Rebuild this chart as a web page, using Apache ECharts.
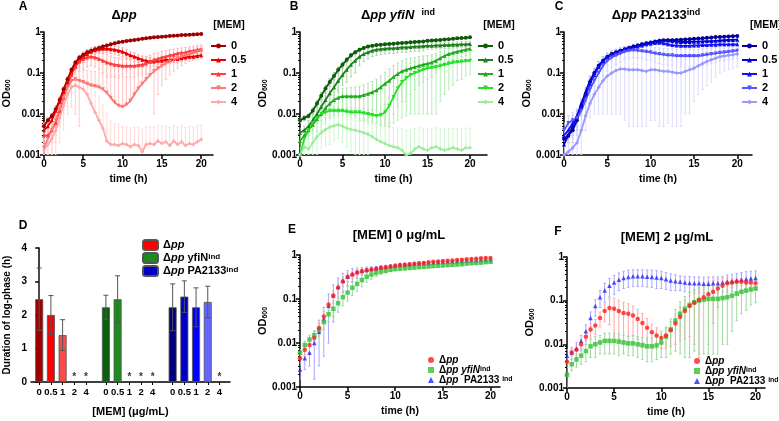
<!DOCTYPE html>
<html>
<head>
<meta charset="utf-8">
<script src="https://cdn.jsdelivr.net/npm/echarts@6/dist/echarts.min.js"></script>
<style>
  html, body { margin: 0; padding: 0; background: #fff; }
  #chart { width: 779px; height: 421px; }
</style>
</head>
<body>
<div id="chart"></div>
<script>
// time points (h) shared by every growth curve
const hours = [
  0, 0.5, 1, 1.5, 2, 2.5, 3, 3.5, 4, 4.5,
  5, 5.5, 6, 6.5, 7, 7.5, 8, 8.5, 9, 9.5,
  10, 10.5, 11, 11.5, 12, 12.5, 13, 13.5, 14, 14.5,
  15, 15.5, 16, 16.5, 17, 17.5, 18, 18.5, 19, 19.5,
  20
];
const doses = ["0", "0.5", "1", "2", "4"];
const timeTicks = [0, 5, 10, 15, 20];

// ---- panel A : Δpp, OD600 mean and SD per [MEM]
const aOd0 = [0.005,0.007,0.009,0.013,0.022,0.04,0.07,0.12,0.18,0.24,
  0.28,0.32,0.35,0.38,0.41,0.44,0.47,0.5,0.53,0.56,
  0.58,0.6,0.62,0.64,0.66,0.68,0.7,0.72,0.74,0.75,
  0.77,0.78,0.8,0.81,0.82,0.84,0.85,0.86,0.87,0.88,
  0.9];
const aOd05 = [0.004,0.005,0.007,0.012,0.02,0.035,0.06,0.1,0.15,0.2,
  0.25,0.29,0.33,0.36,0.38,0.39,0.39,0.38,0.37,0.35,
  0.33,0.3,0.27,0.25,0.23,0.21,0.2,0.19,0.19,0.2,
  0.2,0.21,0.21,0.22,0.22,0.23,0.24,0.25,0.25,0.26,
  0.27];
const aOd1 = [0.003,0.003,0.004,0.006,0.012,0.025,0.05,0.09,0.14,0.19,
  0.22,0.24,0.25,0.24,0.22,0.2,0.18,0.17,0.16,0.155,
  0.15,0.15,0.15,0.15,0.155,0.16,0.17,0.19,0.21,0.22,
  0.24,0.25,0.27,0.28,0.3,0.31,0.32,0.34,0.35,0.37,
  0.38];
const aOd2 = [0.0015,0.0025,0.004,0.007,0.013,0.025,0.045,0.065,0.07,0.065,
  0.06,0.055,0.05,0.048,0.045,0.04,0.033,0.025,0.019,0.016,
  0.015,0.017,0.021,0.03,0.042,0.055,0.07,0.09,0.11,0.13,
  0.15,0.17,0.19,0.21,0.23,0.25,0.27,0.29,0.31,0.33,
  0.35];
const aOd4 = [0.0013,0.0018,0.0025,0.004,0.008,0.016,0.03,0.045,0.05,0.045,
  0.04,0.03,0.018,0.011,0.007,0.0045,0.0022,0.0018,0.0018,0.0017,
  0.0019,0.0018,0.0016,0.0018,0.0017,0.0012,0.0018,0.0019,0.0018,0.0022,
  0.0019,0.0021,0.0017,0.0022,0.0018,0.0021,0.0017,0.0019,0.0018,0.0021,
  0.0024];
const aSd0 = [0.001,0.001,0.001,0.002,0.003,0.005,0.008,0.012,0.02,0.03,
  0.03,0.03,0.03,0.03,0.03,0.03,0.03,0.03,0.03,0.03,
  0.03,0.03,0.03,0.03,0.03,0.03,0.03,0.03,0.03,0.03,
  0.03,0.03,0.03,0.03,0.03,0.03,0.03,0.03,0.03,0.03,
  0.03];
const aSd05 = [0.002,0.002,0.003,0.004,0.006,0.01,0.02,0.03,0.05,0.06,
  0.07,0.08,0.08,0.08,0.08,0.08,0.08,0.08,0.08,0.08,
  0.08,0.07,0.06,0.06,0.05,0.05,0.05,0.05,0.04,0.04,
  0.04,0.04,0.04,0.04,0.04,0.04,0.04,0.04,0.04,0.04,
  0.04];
const aSd1 = [0.001,0.001,0.002,0.003,0.006,0.012,0.025,0.04,0.06,0.08,
  0.1,0.1,0.1,0.1,0.1,0.1,0.1,0.09,0.08,0.08,
  0.07,0.07,0.07,0.07,0.07,0.07,0.08,0.08,0.09,0.09,
  0.1,0.1,0.1,0.1,0.1,0.1,0.1,0.1,0.1,0.1,
  0.1];
const aSd2 = [0.001,0.002,0.003,0.005,0.008,0.015,0.03,0.05,0.06,0.06,
  0.06,0.06,0.06,0.06,0.06,0.06,0.06,0.06,0.06,0.07,
  0.08,0.09,0.1,0.1,0.1,0.1,0.1,0.1,0.1,0.1,
  0.1,0.1,0.1,0.1,0.1,0.1,0.1,0.1,0.1,0.1,
  0.1];
const aSd4 = [0.0005,0.001,0.0015,0.003,0.006,0.012,0.02,0.03,0.04,0.04,
  0.04,0.035,0.03,0.025,0.02,0.012,0.008,0.005,0.004,0.004,
  0.003,0.003,0.003,0.003,0.003,0.003,0.003,0.003,0.003,0.003,
  0.003,0.003,0.003,0.003,0.003,0.003,0.003,0.003,0.003,0.003,
  0.003];

// ---- panel B : Δpp yfiN ind
const bOd0 = [0.007,0.008,0.009,0.012,0.018,0.028,0.042,0.06,0.085,0.12,
  0.16,0.21,0.27,0.32,0.37,0.41,0.44,0.46,0.48,0.49,
  0.5,0.51,0.52,0.53,0.54,0.55,0.56,0.57,0.58,0.59,
  0.61,0.62,0.63,0.64,0.66,0.67,0.68,0.7,0.71,0.72,
  0.74];
const bOd05 = [0.0035,0.004,0.005,0.007,0.01,0.015,0.022,0.032,0.045,0.065,
  0.09,0.12,0.16,0.2,0.25,0.29,0.32,0.35,0.37,0.38,
  0.39,0.4,0.4,0.41,0.42,0.42,0.43,0.44,0.44,0.45,
  0.46,0.46,0.47,0.47,0.48,0.48,0.49,0.49,0.5,0.5,
  0.51];
const bOd1 = [0.0022,0.003,0.004,0.0055,0.0075,0.01,0.014,0.018,0.022,0.025,
  0.027,0.027,0.027,0.027,0.027,0.029,0.031,0.034,0.038,0.045,
  0.055,0.065,0.08,0.095,0.11,0.12,0.13,0.14,0.15,0.16,
  0.17,0.18,0.2,0.23,0.26,0.29,0.31,0.33,0.35,0.37,
  0.39];
const bOd2 = [0.001,0.0025,0.004,0.006,0.008,0.01,0.011,0.012,0.012,0.012,
  0.012,0.0115,0.011,0.011,0.011,0.0105,0.01,0.0095,0.009,0.0095,
  0.011,0.016,0.026,0.042,0.06,0.075,0.09,0.1,0.11,0.12,
  0.13,0.135,0.14,0.15,0.16,0.17,0.18,0.185,0.19,0.195,
  0.2];
const bOd4 = [0.001,0.0016,0.0014,0.002,0.0028,0.0035,0.0042,0.0048,0.0052,0.0055,
  0.005,0.0045,0.0042,0.004,0.0038,0.0035,0.0032,0.0028,0.0024,0.0021,
  0.0019,0.0017,0.0016,0.0015,0.0013,0.001,0.0011,0.0014,0.0016,0.0014,
  0.0013,0.0015,0.0016,0.0014,0.0013,0.0014,0.0015,0.0014,0.0013,0.0015,
  0.0015];
const bSd0 = [0.001,0.001,0.001,0.002,0.003,0.005,0.008,0.012,0.016,0.02,
  0.025,0.03,0.03,0.03,0.03,0.03,0.03,0.03,0.03,0.03,
  0.03,0.03,0.03,0.03,0.03,0.03,0.03,0.03,0.03,0.03,
  0.03,0.03,0.03,0.03,0.03,0.03,0.03,0.03,0.03,0.03,
  0.03];
const bSd05 = [0.001,0.001,0.002,0.003,0.004,0.006,0.01,0.015,0.02,0.03,
  0.04,0.06,0.08,0.1,0.1,0.1,0.1,0.1,0.1,0.1,
  0.1,0.1,0.1,0.1,0.1,0.1,0.1,0.1,0.1,0.1,
  0.08,0.08,0.08,0.08,0.08,0.08,0.08,0.08,0.08,0.08,
  0.08];
const bSd1 = [0.001,0.001,0.002,0.003,0.004,0.006,0.008,0.01,0.012,0.014,
  0.015,0.016,0.017,0.018,0.02,0.022,0.025,0.028,0.032,0.04,
  0.05,0.06,0.07,0.08,0.09,0.1,0.1,0.1,0.1,0.1,
  0.1,0.1,0.1,0.1,0.1,0.1,0.1,0.1,0.1,0.1,
  0.1];
const bSd2 = [0.0005,0.001,0.001,0.002,0.002,0.003,0.003,0.003,0.003,0.003,
  0.003,0.003,0.003,0.003,0.003,0.003,0.003,0.003,0.003,0.004,
  0.006,0.01,0.02,0.035,0.052,0.066,0.08,0.09,0.1,0.11,
  0.12,0.125,0.13,0.13,0.13,0.13,0.13,0.12,0.12,0.11,
  0.11];
const bSd4 = [0.0005,0.001,0.001,0.0015,0.002,0.002,0.0025,0.003,0.003,0.003,
  0.003,0.003,0.003,0.003,0.003,0.003,0.003,0.003,0.003,0.003,
  0.003,0.003,0.003,0.003,0.003,0.003,0.003,0.003,0.003,0.003,
  0.003,0.003,0.003,0.003,0.003,0.003,0.003,0.003,0.003,0.003,
  0.003];

// ---- panel C : Δpp PA2133 ind
const cOd0 = [0.0025,0.003,0.004,0.007,0.015,0.03,0.06,0.1,0.15,0.2,
  0.25,0.29,0.32,0.35,0.38,0.41,0.44,0.47,0.5,0.53,
  0.55,0.58,0.6,0.62,0.63,0.63,0.64,0.65,0.66,0.67,
  0.68,0.69,0.7,0.72,0.73,0.75,0.76,0.77,0.78,0.79,
  0.8];
const cOd05 = [0.0018,0.003,0.005,0.009,0.018,0.035,0.065,0.1,0.15,0.2,
  0.25,0.29,0.32,0.35,0.38,0.41,0.44,0.47,0.5,0.53,
  0.56,0.59,0.62,0.64,0.62,0.6,0.58,0.57,0.57,0.57,
  0.58,0.58,0.59,0.6,0.6,0.61,0.62,0.63,0.64,0.64,
  0.65];
const cOd1 = [0.003,0.004,0.006,0.009,0.015,0.03,0.055,0.09,0.14,0.19,
  0.24,0.28,0.31,0.34,0.37,0.39,0.41,0.44,0.47,0.5,
  0.52,0.54,0.55,0.53,0.5,0.48,0.47,0.46,0.46,0.46,
  0.47,0.47,0.48,0.48,0.49,0.49,0.5,0.5,0.5,0.5,
  0.5];
const cOd2 = [0.004,0.006,0.007,0.008,0.012,0.022,0.04,0.065,0.1,0.15,
  0.2,0.24,0.27,0.3,0.33,0.35,0.36,0.35,0.34,0.33,
  0.32,0.3,0.29,0.28,0.27,0.27,0.26,0.26,0.26,0.26,
  0.26,0.26,0.27,0.28,0.29,0.3,0.31,0.32,0.33,0.34,
  0.35];
const cOd4 = [0.001,0.0012,0.0015,0.002,0.004,0.009,0.018,0.03,0.045,0.065,
  0.085,0.1,0.115,0.125,0.125,0.12,0.12,0.12,0.115,0.11,
  0.12,0.12,0.115,0.11,0.11,0.105,0.1,0.1,0.11,0.12,
  0.13,0.15,0.17,0.19,0.21,0.23,0.25,0.26,0.27,0.28,
  0.29];
const cSd0 = [0.001,0.001,0.002,0.003,0.005,0.01,0.02,0.03,0.04,0.05,
  0.05,0.05,0.05,0.05,0.05,0.05,0.05,0.05,0.05,0.05,
  0.05,0.05,0.05,0.05,0.05,0.05,0.05,0.05,0.05,0.05,
  0.05,0.05,0.05,0.05,0.05,0.05,0.05,0.05,0.05,0.05,
  0.05];
const cSd05 = [0.001,0.001,0.002,0.003,0.005,0.01,0.02,0.03,0.04,0.05,
  0.06,0.06,0.06,0.06,0.06,0.06,0.06,0.06,0.06,0.06,
  0.06,0.06,0.06,0.06,0.06,0.06,0.06,0.06,0.06,0.06,
  0.06,0.06,0.06,0.06,0.06,0.06,0.06,0.06,0.06,0.06,
  0.06];
const cSd1 = [0.001,0.002,0.003,0.004,0.006,0.01,0.02,0.03,0.04,0.05,
  0.05,0.05,0.05,0.05,0.05,0.05,0.05,0.05,0.05,0.05,
  0.05,0.05,0.05,0.05,0.05,0.05,0.05,0.05,0.05,0.05,
  0.05,0.05,0.05,0.05,0.05,0.05,0.05,0.05,0.05,0.05,
  0.05];
const cSd2 = [0.002,0.003,0.004,0.005,0.007,0.012,0.02,0.035,0.05,0.07,
  0.09,0.1,0.11,0.12,0.12,0.12,0.12,0.12,0.12,0.12,
  0.12,0.12,0.12,0.12,0.12,0.12,0.12,0.12,0.12,0.12,
  0.12,0.12,0.12,0.12,0.12,0.12,0.12,0.12,0.12,0.12,
  0.12];
const cSd4 = [0.0005,0.001,0.001,0.0015,0.003,0.005,0.01,0.02,0.035,0.055,
  0.075,0.09,0.105,0.115,0.118,0.115,0.115,0.115,0.11,0.105,
  0.113,0.113,0.11,0.105,0.104,0.1,0.095,0.095,0.1,0.11,
  0.11,0.12,0.13,0.14,0.15,0.15,0.15,0.15,0.15,0.15,
  0.15];

// ---- panel D : duration of log-phase (h), per strain and [MEM]; null = no log phase (*)
const dMeanPp   = [2.47, 2.0, 1.4, null, null];
const dSdPp     = [0.93, 0.58, 0.46, null, null];
const dMeanYfiN = [2.23, 2.47, null, null, null];
const dSdYfiN   = [0.36, 0.7, null, null, null];
const dMeanPa   = [2.23, 2.55, 2.23, 2.39, null];
const dSdPa     = [0.7, 0.47, 0.58, 0.47, null];

// ---- panel E : [MEM] 0 µg/mL, three strains
const ePp = [0.0045,0.007,0.009,0.013,0.022,0.04,0.075,0.12,0.18,0.25,
  0.32,0.36,0.4,0.43,0.45,0.47,0.49,0.51,0.53,0.55,
  0.57,0.59,0.6,0.62,0.63,0.65,0.66,0.68,0.7,0.71,
  0.73,0.74,0.75,0.77,0.78,0.8,0.81,0.82,0.84,0.85,
  0.86];
const eYfiN = [0.006,0.009,0.012,0.015,0.02,0.03,0.045,0.06,0.08,0.11,
  0.14,0.18,0.22,0.27,0.32,0.36,0.39,0.42,0.44,0.46,
  0.48,0.49,0.5,0.51,0.52,0.53,0.54,0.55,0.56,0.57,
  0.58,0.59,0.6,0.61,0.62,0.64,0.65,0.66,0.67,0.69,
  0.7];
const ePa = [0.0025,0.0045,0.006,0.01,0.018,0.035,0.07,0.12,0.19,0.26,
  0.32,0.37,0.41,0.44,0.46,0.48,0.5,0.52,0.54,0.56,
  0.58,0.6,0.61,0.62,0.63,0.64,0.65,0.66,0.67,0.68,
  0.69,0.7,0.71,0.72,0.73,0.74,0.75,0.76,0.77,0.78,
  0.79];
const eSdPp = [0.001,0.002,0.003,0.004,0.007,0.012,0.02,0.03,0.05,0.06,
  0.07,0.07,0.06,0.05,0.05,0.04,0.04,0.04,0.03,0.03,
  0.03,0.03,0.03,0.03,0.03,0.03,0.03,0.03,0.03,0.03,
  0.03,0.03,0.03,0.03,0.03,0.03,0.03,0.03,0.03,0.03,
  0.03];
const eSdYfiN = [0.001,0.002,0.003,0.004,0.006,0.01,0.015,0.02,0.03,0.04,
  0.05,0.06,0.07,0.08,0.08,0.08,0.07,0.06,0.05,0.04,
  0.04,0.04,0.04,0.04,0.04,0.04,0.04,0.04,0.04,0.04,
  0.04,0.04,0.04,0.04,0.04,0.04,0.04,0.04,0.04,0.04,
  0.04];
const eSdPa = [0.001,0.002,0.003,0.0085,0.015,0.03,0.06,0.09,0.11,0.12,
  0.12,0.12,0.1,0.08,0.07,0.06,0.05,0.05,0.04,0.04,
  0.04,0.04,0.04,0.04,0.04,0.04,0.04,0.04,0.04,0.04,
  0.04,0.04,0.04,0.04,0.04,0.04,0.04,0.04,0.04,0.04,
  0.04];

// ---- panel F : [MEM] 2 µg/mL, three strains
const fPp = [0.004,0.0065,0.0075,0.01,0.015,0.022,0.027,0.04,0.058,0.068,
  0.065,0.058,0.052,0.05,0.046,0.038,0.031,0.024,0.019,0.016,
  0.014,0.016,0.021,0.03,0.042,0.058,0.075,0.09,0.105,0.12,
  0.14,0.16,0.19,0.22,0.25,0.26,0.27,0.27,0.26,0.26,
  0.25];
const fYfiN = [0.002,0.0035,0.0045,0.0055,0.007,0.009,0.01,0.011,0.012,0.012,
  0.012,0.0115,0.011,0.0105,0.0105,0.01,0.0095,0.009,0.009,0.0095,
  0.011,0.015,0.022,0.035,0.05,0.065,0.08,0.092,0.1,0.105,
  0.11,0.11,0.11,0.115,0.12,0.13,0.145,0.16,0.17,0.18,
  0.19];
const fPa = [0.0055,0.0065,0.008,0.012,0.02,0.04,0.075,0.12,0.17,0.22,
  0.26,0.3,0.33,0.35,0.36,0.36,0.36,0.355,0.35,0.34,
  0.33,0.31,0.29,0.28,0.27,0.26,0.255,0.25,0.25,0.245,
  0.245,0.25,0.25,0.26,0.27,0.28,0.29,0.3,0.31,0.32,
  0.33];
const fSdPp = [0.001,0.001,0.002,0.003,0.005,0.008,0.01,0.015,0.025,0.04,
  0.05,0.045,0.04,0.035,0.03,0.025,0.02,0.015,0.01,0.008,
  0.006,0.008,0.012,0.02,0.03,0.045,0.06,0.08,0.1,0.12,
  0.13,0.13,0.12,0.1,0.08,0.06,0.05,0.05,0.05,0.05,
  0.05];
const fSdYfiN = [0.001,0.001,0.0015,0.002,0.003,0.004,0.005,0.005,0.006,0.006,
  0.006,0.006,0.005,0.005,0.005,0.005,0.005,0.005,0.005,0.005,
  0.006,0.01,0.016,0.028,0.044,0.06,0.075,0.085,0.094,0.099,
  0.104,0.104,0.104,0.105,0.11,0.11,0.11,0.11,0.11,0.1,
  0.1];
const fSdPa = [0.002,0.002,0.003,0.004,0.008,0.015,0.03,0.05,0.08,0.1,
  0.12,0.13,0.14,0.15,0.15,0.15,0.15,0.15,0.15,0.15,
  0.14,0.13,0.12,0.11,0.1,0.1,0.1,0.1,0.1,0.1,
  0.1,0.1,0.1,0.1,0.12,0.12,0.13,0.14,0.15,0.15,
  0.15];

const FONT = '"Liberation Sans", Arial, sans-serif';
const txt = { color: "#000", fontWeight: "bold", fontFamily: FONT };

function rich(size) {
  return {
    n: { ...txt, fontSize: size },
    i: { ...txt, fontSize: size, fontStyle: "italic" },
    s: { ...txt, fontSize: Math.round(size * 0.7), verticalAlign: "top" },
  };
}

// mean ± SD bars; when mean - SD drops below 0 only the upper half is drawn
function errData(mean, sd) {
  return hours.map((t, i) => {
    let lo = mean[i] - sd[i];
    if (lo <= 0) lo = mean[i];
    return [t, Math.max(lo, 0.001), Math.min(mean[i] + sd[i], 1)];
  });
}

function errItem(cap) {
  return (params, api) => {
    const x = api.value(0);
    const lo = api.coord([x, api.value(1)]);
    const hi = api.coord([x, api.value(2)]);
    const style = { stroke: api.visual("color"), lineWidth: 1 };
    return {
      type: "group",
      children: [
        { type: "line", shape: { x1: lo[0], y1: lo[1], x2: hi[0], y2: hi[1] }, style },
        { type: "line", shape: { x1: hi[0] - cap, y1: hi[1], x2: hi[0] + cap, y2: hi[1] }, style },
        { type: "line", shape: { x1: lo[0] - cap, y1: lo[1], x2: lo[0] + cap, y2: lo[1] }, style },
      ],
    };
  };
}

const grids = [
  { left: 31, top: 32, width: 182, height: 123 },  // A
  { left: 300, top: 32, width: 187, height: 123 }, // B
  { left: 564, top: 32, width: 188, height: 123 }, // C
  { left: 31, top: 248, width: 199, height: 134 }, // D
  { left: 300, top: 255, width: 200, height: 132 },// E
  { left: 567, top: 257, width: 198, height: 131 },// F
];

function timeX(g, max) {
  return {
    gridIndex: g, type: "value", min: 0, max,
    axisLine: { onZero: false, lineStyle: { color: "#000", width: 1.5 } },
    axisTick: { length: 4, customValues: timeTicks, lineStyle: { color: "#000", width: 1.5 } },
    axisLabel: { ...txt, fontSize: 10, margin: 4, customValues: timeTicks },
    splitLine: { show: false },
    name: "time (h)", nameLocation: "middle", nameGap: 19,
    nameTextStyle: { ...txt, fontSize: 10.5 },
  };
}

function odY(g, gap) {
  return {
    gridIndex: g, type: "log", logBase: 10, min: 0.001, max: 1,
    axisLine: { lineStyle: { color: "#000", width: 1.5 } },
    axisTick: { length: 4, lineStyle: { color: "#000", width: 1.5 } },
    axisLabel: { ...txt, fontSize: 10, margin: 3, formatter: (v) => String(+Number(v).toPrecision(2)) },
    splitLine: { show: false },
    name: "{b|OD}{s|600}", nameLocation: "middle", nameRotate: 90, nameGap: gap,
    nameTextStyle: { rich: { b: { ...txt, fontSize: 11 }, s: { ...txt, fontSize: 7, verticalAlign: "bottom" } } },
  };
}

const minorVals = [];
[0.001, 0.01, 0.1].forEach((d) => { for (let k = 2; k <= 9; k++) minorVals.push(+(d * k).toPrecision(2)); });
function minorY(g) {
  return {
    gridIndex: g, type: "log", logBase: 10, min: 0.001, max: 1, position: "left",
    axisLine: { show: false }, axisLabel: { show: false }, splitLine: { show: false },
    axisTick: { show: true, length: 2, customValues: minorVals, lineStyle: { color: "#000", width: 1 } },
  };
}

// D x positions: five doses per strain, a small gap between strains
const dMeans = [dMeanPp, dMeanYfiN, dMeanPa];
const dSds = [dSdPp, dSdYfiN, dSdPa];
const dPos = [];
const dTickLabels = [];
dMeans.forEach((m, g) => doses.forEach((d, i) => { dPos.push(g * 5.7 + i); dTickLabels.push(d); }));

const xAxis = [
  timeX(0, 21.5), timeX(1, 22), timeX(2, 21.7),
  {
    gridIndex: 3, type: "value", min: -0.7, max: 16.3,
    axisLine: { lineStyle: { color: "#000", width: 1.5 } },
    axisTick: { length: 3, customValues: dPos, lineStyle: { color: "#000", width: 1 } },
    axisLabel: {
      ...txt, fontSize: 9.5, margin: 5, customValues: dPos,
      formatter: (v) => { const k = dPos.findIndex((p) => Math.abs(p - v) < 1e-6); return k >= 0 ? dTickLabels[k] : ""; },
    },
    splitLine: { show: false },
    name: "[MEM] (μg/mL)", nameLocation: "middle", nameGap: 24, nameTextStyle: { ...txt, fontSize: 11 },
  },
  timeX(4, 21), timeX(5, 21),
];

const yAxis = [
  odY(0, 11), odY(1, 19), odY(2, 20),
  {
    gridIndex: 3, type: "value", min: 0, max: 4, interval: 1,
    axisLine: { lineStyle: { color: "#000", width: 1.5 } },
    axisTick: { length: 4, lineStyle: { color: "#000", width: 1.5 } },
    axisLabel: { ...txt, fontSize: 10, margin: 4 },
    splitLine: { show: false },
    name: "Duration of log-phase (h)", nameLocation: "middle", nameRotate: 90, nameGap: 19,
    nameTextStyle: { ...txt, fontSize: 10 },
  },
  odY(4, 22), odY(5, 24),
  minorY(0), minorY(1), minorY(2), minorY(4), minorY(5),
];

const series = [];

// A, B, C growth curves per [MEM]
const dosePanels = [
  { g: 0, key: "A", od: [aOd0, aOd05, aOd1, aOd2, aOd4], sd: [aSd0, aSd05, aSd1, aSd2, aSd4],
    colors: ["#9e0000", "#e80000", "#ff3d3d", "#ff7878", "#ffaaaa"],
    errColors: ["#d48a8a", "#ff9e9e", "#ffb4b4", "#ffc6c6", "#ffdada"] },
  { g: 1, key: "B", od: [bOd0, bOd05, bOd1, bOd2, bOd4], sd: [bSd0, bSd05, bSd1, bSd2, bSd4],
    colors: ["#0c5c0c", "#1e7e1e", "#22aa22", "#26e026", "#9cee9c"],
    errColors: ["#8fbf8f", "#a8d6a8", "#b0e4b0", "#b4f0b4", "#cff6cf"] },
  { g: 2, key: "C", od: [cOd0, cOd05, cOd1, cOd2, cOd4], sd: [cSd0, cSd05, cSd1, cSd2, cSd4],
    colors: ["#000096", "#0000d2", "#1010ff", "#5656ff", "#9898ff"],
    errColors: ["#b4b4ee", "#bcbcf8", "#c4c4ff", "#ccccff", "#dcdcff"] },
];
const doseSymbols = ["circle", "triangle", "triangle", "triangle", "diamond"];
const doseRotate = [0, 0, 0, 180, 0];

dosePanels.forEach((p) => {
  p.od.forEach((od, k) => {
    series.push({
      type: "custom", xAxisIndex: p.g, yAxisIndex: p.g, z: 1, clip: true,
      itemStyle: { color: p.errColors[k] },
      renderItem: errItem(1.2), encode: { x: 0, y: [1, 2] },
      data: errData(od, p.sd[k]),
    });
  });
  p.od.forEach((od, k) => {
    series.push({
      type: "line", name: p.key + "|" + doses[k], xAxisIndex: p.g, yAxisIndex: p.g, z: 3,
      symbol: doseSymbols[k], symbolRotate: doseRotate[k], symbolSize: 4,
      lineStyle: { color: p.colors[k], width: 1.8 }, itemStyle: { color: p.colors[k] },
      data: hours.map((t, i) => [t, od[i]]),
    });
  });
});

// E, F three strains as markers
const strainKeys = ["pp", "yfiN", "PA"];
const strainSymbols = ["circle", "rect", "triangle"];
const strainColors = ["#ff1e1e", "#33c233", "#2424ff"];
const strainErr = ["#ffa6a6", "#9ed89e", "#a8a8ff"];
const strainPanels = [
  { g: 4, key: "E", od: [ePp, eYfiN, ePa], sd: [eSdPp, eSdYfiN, eSdPa] },
  { g: 5, key: "F", od: [fPp, fYfiN, fPa], sd: [fSdPp, fSdYfiN, fSdPa] },
];
strainPanels.forEach((p) => {
  [2, 0, 1].forEach((k) => {
    series.push({
      type: "custom", xAxisIndex: p.g, yAxisIndex: p.g, z: 1, clip: true,
      itemStyle: { color: strainErr[k] },
      renderItem: errItem(1.2), encode: { x: 0, y: [1, 2] },
      data: errData(p.od[k], p.sd[k]),
    });
  });
  [2, 1, 0].forEach((k) => {
    series.push({
      type: "scatter", name: p.key + "|" + strainKeys[k], xAxisIndex: p.g, yAxisIndex: p.g, z: 3,
      symbol: strainSymbols[k], symbolSize: 4.5, itemStyle: { color: strainColors[k] },
      data: hours.map((t, i) => [t, p.od[k][i]]),
    });
  });
});

// D bars
const dLegendColors = ["#ff0000", "#1f8a1f", "#0000c8"];
const dBarColors = [
  ["#a00000", "#ff0000", "#ff4a4a", "#ff8080", "#ffb0b0"],
  ["#0b5e0b", "#1f8a1f", "#2ab82a", "#50d850", "#90ee90"],
  ["#00007c", "#0000c4", "#0000ff", "#6464ff", "#a0a0ff"],
];
const starData = [];
const dErr = [];
dMeans.forEach((m, g) => {
  const data = [];
  m.forEach((v, i) => {
    const x = dPos[g * 5 + i];
    if (v === null) { starData.push([x, 0]); return; }
    data.push({ value: [x, v], itemStyle: { color: dBarColors[g][i] } });
    dErr.push([x, v - dSds[g][i], v + dSds[g][i]]);
  });
  series.push({
    type: "bar", name: "D|" + strainKeys[g], xAxisIndex: 3, yAxisIndex: 3,
    barWidth: 8, barGap: "-100%", z: 2,
    itemStyle: { color: dLegendColors[g], borderColor: "#555", borderWidth: 0.8 },
    data,
  });
});
series.push({
  type: "custom", xAxisIndex: 3, yAxisIndex: 3, z: 4,
  itemStyle: { color: "#555" }, renderItem: errItem(2.5), encode: { x: 0, y: [1, 2] },
  data: dErr,
});
series.push({
  type: "scatter", xAxisIndex: 3, yAxisIndex: 3, symbolSize: 2, z: 5,
  itemStyle: { color: "rgba(0,0,0,0)" },
  label: { show: true, formatter: "*", position: "top", distance: -1, ...txt, fontSize: 10 },
  data: starData,
});

// legends
const strainText = {
  pp: "{n|Δ}{i|pp}",
  yfiN: "{n|Δ}{i|pp yfiN}{s|ind}",
  PA: "{n|Δ}{i|pp}{n|  PA2133 }{s|ind}",
};
const dStrainText = {
  pp: "{n|Δ}{i|pp}",
  yfiN: "{n|Δ}{i|pp}{n| yfiN}{s|ind}",
  PA: "{n|Δ}{i|pp}{n| PA2133}{s|ind}",
};
function doseLegend(key, left) {
  return {
    data: doses.map((d) => key + "|" + d), orient: "vertical", left, top: 35,
    itemWidth: 15, itemHeight: 6, itemGap: 2,
    formatter: (n) => n.split("|")[1],
    textStyle: { ...txt, fontSize: 11, lineHeight: 12 },
  };
}
function strainLegend(key, left, top) {
  return {
    data: strainKeys.map((s) => key + "|" + s), orient: "vertical", left, top,
    itemWidth: 6, itemHeight: 6, itemGap: 0,
    formatter: (n) => strainText[n.split("|")[1]],
    textStyle: { ...txt, fontSize: 10, lineHeight: 9, rich: rich(10) },
  };
}
const legend = [
  doseLegend("A", 205), doseLegend("B", 472), doseLegend("C", 736),
  {
    data: strainKeys.map((s) => "D|" + s), orient: "vertical", left: 137, top: 234,
    itemWidth: 15, itemHeight: 10, itemGap: 1,
    formatter: (n) => dStrainText[n.split("|")[1]],
    textStyle: { ...txt, fontSize: 11, lineHeight: 11, rich: rich(11) },
  },
  strainLegend("E", 423, 350), strainLegend("F", 689, 351),
];

function label(text, x, y, size, align) {
  return {
    type: "text", x, y, silent: true,
    style: { text, fill: "#000", fontSize: size, fontWeight: "bold", fontFamily: FONT,
      align: align || "center", verticalAlign: "middle", rich: rich(size) },
  };
}
const graphic = [
  label("A", 23, 7, 12), label("B", 294, 7, 12), label("C", 559, 7, 12),
  label("D", 23, 226, 12), label("E", 292, 230, 12), label("F", 558, 232, 12),
  label("{n|Δ}{i|pp}", 124, 15, 13),
  label("{n|Δ}{i|pp yfiN}{n|  }{s|ind}", 398, 15, 13),
  label("{n|Δ}{i|pp}{n| PA2133}{s|ind}", 656, 15, 13),
  label("[MEM] 0 μg/mL", 399, 235, 13),
  label("[MEM] 2 μg/mL", 667, 237, 13),
  label("[MEM]", 229, 25, 10.5), label("[MEM]", 499, 25, 10.5), label("[MEM]", 750, 25, 10.5, "left"),
];

const chart = echarts.init(document.getElementById("chart"), null, { renderer: "canvas" });
chart.setOption({
  animation: false,
  backgroundColor: "#fff",
  grid: grids,
  xAxis,
  yAxis,
  legend,
  graphic,
  series,
});
</script>
</body>
</html>
